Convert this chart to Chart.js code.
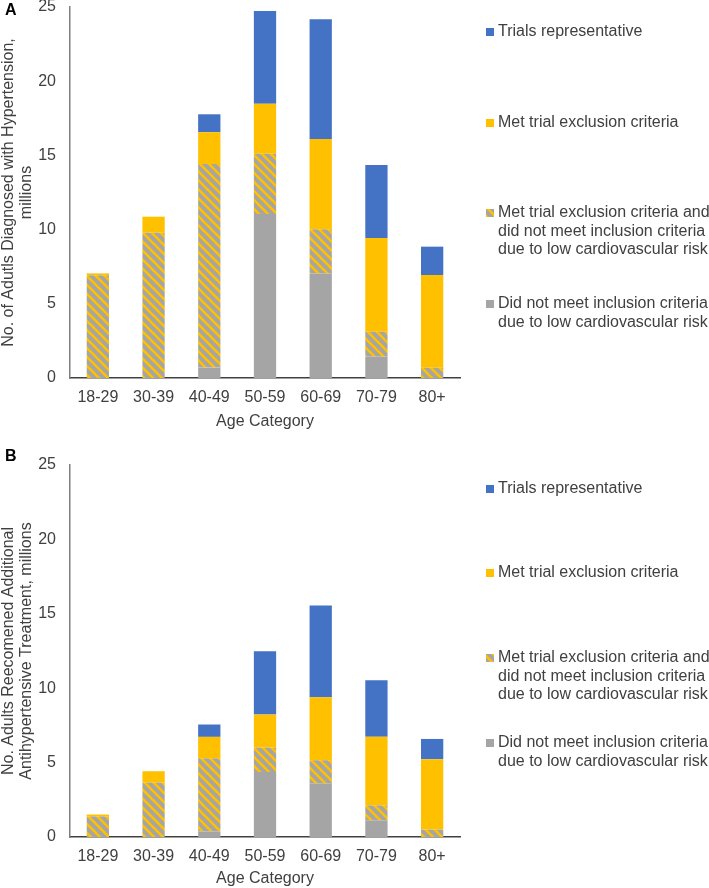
<!DOCTYPE html>
<html>
<head>
<meta charset="utf-8">
<script src="https://cdn.jsdelivr.net/npm/chart.js@4"></script>
<style>
  body { margin: 0; background: #fff; }
  .panel { position: absolute; left: 0; width: 709px; }
  #panelA { top: 0; height: 440px; }
  #panelB { top: 440px; height: 448px; }
</style>
</head>
<body>
<div class="panel" id="panelA"><canvas id="chartA"></canvas></div>
<div class="panel" id="panelB"><canvas id="chartB"></canvas></div>
<script>
// Age categories
const ageLabels = ['18-29', '30-39', '40-49', '50-59', '60-69', '70-79', '80+'];

// Panel A - adults diagnosed with hypertension (millions)
const lowRiskA = [0, 0, 0.7, 11.05, 7.05, 1.44, 0];
const bothA = [6.93, 9.79, 13.72, 4.06, 2.97, 1.68, 0.69];
const exclusionA = [0.12, 1.08, 2.14, 3.37, 6.08, 6.31, 6.25];
const representativeA = [0, 0, 1.21, 6.25, 8.07, 4.92, 1.91];

// Panel B - adults recommended additional treatment (millions)
const lowRiskB = [0, 0, 0.38, 4.37, 3.59, 1.12, 0];
const bothB = [1.39, 3.66, 4.91, 1.64, 1.57, 1.01, 0.5];
const exclusionB = [0.12, 0.76, 1.44, 2.22, 4.23, 4.6, 4.73];
const representativeB = [0, 0, 0.83, 4.26, 6.17, 3.81, 1.36];

const yTicks = [0, 5, 10, 15, 20, 25];

const legendText = [
  ['Trials representative'],
  ['Met trial exclusion criteria'],
  ['Met trial exclusion criteria and', 'did not meet inclusion criteria', 'due to low cardiovascular risk'],
  ['Did not meet inclusion criteria', 'due to low cardiovascular risk']
];

const BLUE = '#4472C4';
const YELLOW = '#FFC000';
const GREY = '#A5A5A5';
const TEXT = '#404040';
const FONT = '"Liberation Sans", Arial, sans-serif';

// grey with yellow diagonal stripes
function makeHatch() {
  const n = 9;
  const tile = document.createElement('canvas');
  tile.width = n;
  tile.height = n;
  const c = tile.getContext('2d');
  c.fillStyle = GREY;
  c.fillRect(0, 0, n, n);
  c.strokeStyle = YELLOW;
  c.lineWidth = 2.6;
  for (let k = -1; k <= 1; k++) {
    c.beginPath();
    c.moveTo(k * n - 1, -1);
    c.lineTo(k * n + n + 1, n + 1);
    c.stroke();
  }
  return c.createPattern(tile, 'repeat');
}
const hatch = makeHatch();

function makeChart(id, letter, series, yTitle, opts) {
  const legendColors = [BLUE, YELLOW, hatch, GREY];

  const sideLegend = {
    id: 'sideLegend',
    afterDraw(chart) {
      const ctx = chart.ctx;
      ctx.save();
      // panel letter
      ctx.font = 'bold 16px ' + FONT;
      ctx.fillStyle = '#000';
      ctx.textBaseline = 'middle';
      ctx.textAlign = 'left';
      ctx.fillText(letter, 5, opts.letterY);
      // legend
      ctx.font = '16px ' + FONT;
      legendText.forEach((lines, i) => {
        const y0 = opts.legendY[i];
        ctx.fillStyle = legendColors[i];
        ctx.fillRect(486, y0 - 4, 8, 8);
        ctx.fillStyle = TEXT;
        lines.forEach((t, j) => ctx.fillText(t, 498, y0 + j * 18.5));
      });
      ctx.restore();
    }
  };

  const ctx = document.getElementById(id).getContext('2d');
  return new Chart(ctx, {
    type: 'bar',
    data: {
      labels: ageLabels,
      datasets: [
        { label: 'Did not meet inclusion criteria due to low cardiovascular risk', data: series[0], backgroundColor: GREY },
        { label: 'Met trial exclusion criteria and did not meet inclusion criteria due to low cardiovascular risk', data: series[1], backgroundColor: hatch },
        { label: 'Met trial exclusion criteria', data: series[2], backgroundColor: YELLOW },
        { label: 'Trials representative', data: series[3], backgroundColor: BLUE }
      ]
    },
    options: {
      responsive: true,
      maintainAspectRatio: false,
      animation: false,
      layout: { padding: { left: 0, right: 249, top: opts.top, bottom: 0 } },
      datasets: { bar: { categoryPercentage: 1, barPercentage: 0.4, borderWidth: 0 } },
      plugins: { legend: { display: false }, tooltip: { enabled: false } },
      scales: {
        x: {
          stacked: true,
          grid: { display: false, drawTicks: false },
          border: { display: true, color: '#404040', width: 1.5 },
          ticks: { color: TEXT, font: { family: FONT, size: 16 }, padding: 10 },
          title: { display: true, text: 'Age Category', color: TEXT, font: { family: FONT, size: 16 }, padding: { top: 0, bottom: opts.titleBottom } },
          afterFit: s => { s.height = opts.xHeight; s.paddingLeft = 0; s.paddingRight = 0; }
        },
        y: {
          stacked: true,
          min: 0,
          max: 25,
          afterBuildTicks: s => { s.ticks = yTicks.map(v => ({ value: v })); },
          grid: { display: false, drawTicks: false },
          border: { display: true, color: '#7f7f7f', width: 1.5 },
          ticks: { color: TEXT, font: { family: FONT, size: 16 }, padding: 14 },
          title: { display: true, text: yTitle, color: TEXT, font: { family: FONT, size: 16, lineHeight: 1.15 }, padding: { top: -1, bottom: 0 } },
          afterFit: s => { s.width = 70; s.paddingTop = 0; s.paddingBottom = 0; }
        }
      }
    },
    plugins: [sideLegend]
  });
}

makeChart('chartA', 'A', [lowRiskA, bothA, exclusionA, representativeA],
  ['No. of Adutls Diagnosed with Hypertension,', 'millions'],
  { top: 7, xHeight: 62, titleBottom: 9, letterY: 11, legendY: [32, 123, 213, 304] });

makeChart('chartB', 'B', [lowRiskB, bothB, exclusionB, representativeB],
  ['No. Adults Reecomened Additional', 'Antihypertensive Treatment, millions'],
  { top: 25, xHeight: 51, titleBottom: 0, letterY: 17, legendY: [49, 133, 218, 303] });
</script>
</body>
</html>
